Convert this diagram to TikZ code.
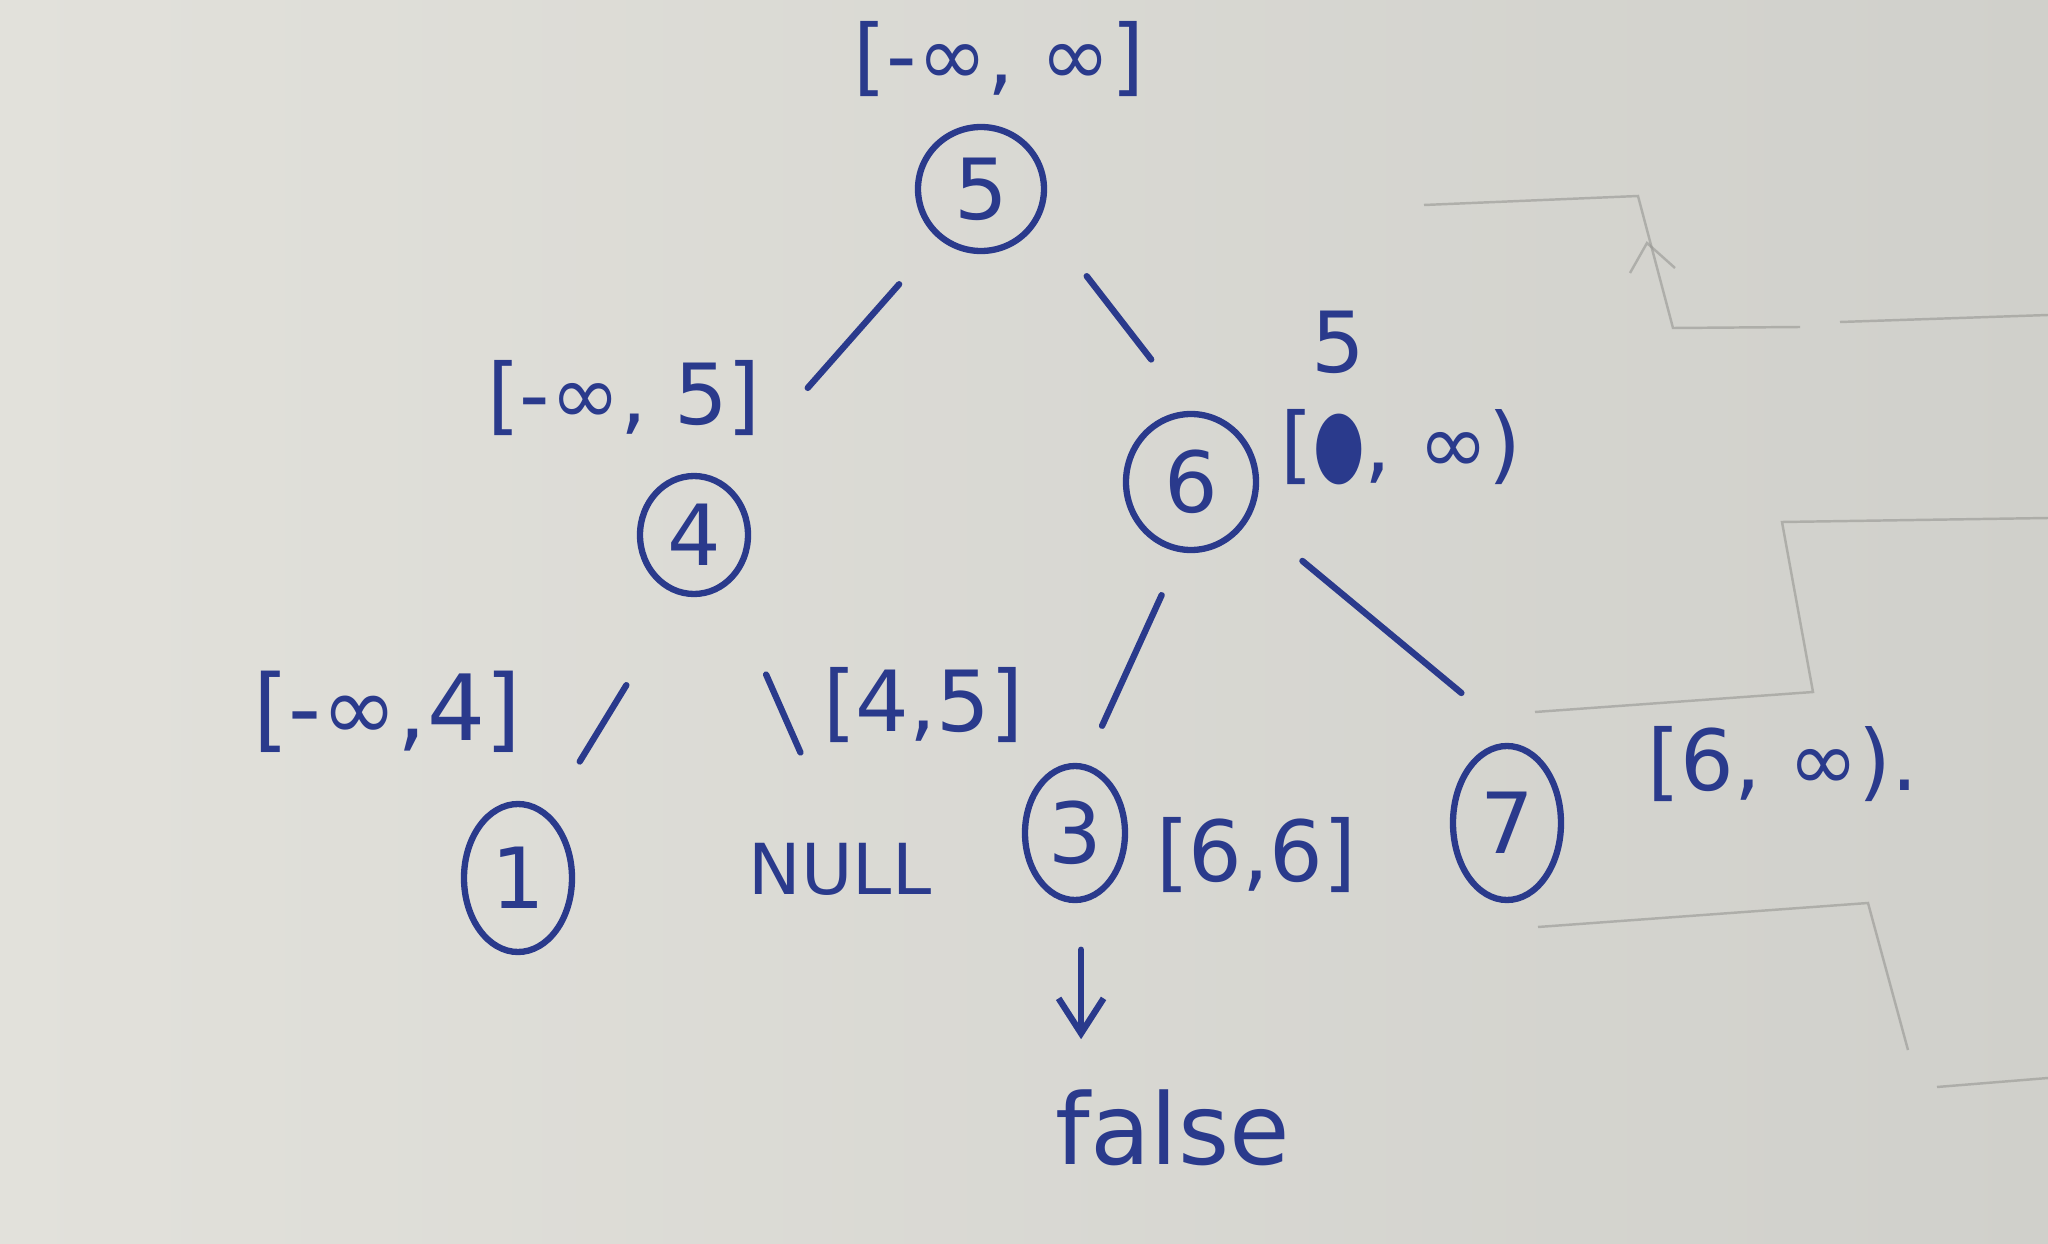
\documentclass[tikz,border=0pt]{standalone}
\usepackage{fontspec}
\setmainfont{DejaVu Sans}
\usepackage{graphicx}
\usepackage{tikz}
\usetikzlibrary{arrows.meta,positioning,shapes.geometric}
\definecolor{penink}{RGB}{42,58,140}
\definecolor{paperlight}{RGB}{226,225,219}
\definecolor{paperdark}{RGB}{208,208,203}
\definecolor{pencil}{RGB}{150,150,146}

\begin{document}
\begin{tikzpicture}[
    every node/.style={align=center},
    treenode/.style={ellipse, draw=penink, line width=1.8pt, text=penink, inner sep=0pt, font=\fontsize{24}{28}\selectfont},
    rangelbl/.style={text=penink, inner sep=0pt, font=\fontsize{24}{28}\selectfont},
    treeedge/.style={draw=penink, line width=1.8pt, line cap=round},
    arr/.style={-{Straight Barb[length=3.5mm, width=4.5mm]}, draw=penink, line width=1.8pt, line cap=round},
    pencilline/.style={draw=pencil, line width=0.7pt, opacity=0.6}
]

% Paper
\shade[left color=paperlight, right color=paperdark] (0,0) rectangle (20.48,-12.44);
\useasboundingbox (0,0) rectangle (20.48,-12.44);

% Pencil marks on the sheet
\draw[pencilline] (14.24,-2.05) -- (16.38,-1.96) -- (16.73,-3.28) -- (18.00,-3.27);
\draw[pencilline] (18.40,-3.22) -- (20.48,-3.15);
\draw[pencilline] (16.30,-2.73) -- (16.47,-2.43) -- (16.75,-2.68);
\draw[pencilline] (20.48,-5.18) -- (17.82,-5.22) -- (18.13,-6.92) -- (15.35,-7.12);
\draw[pencilline] (15.38,-9.27) -- (18.68,-9.03) -- (19.08,-10.50);
\draw[pencilline] (19.37,-10.87) -- (20.48,-10.78);

% Tree
\node[treenode, minimum width=1.26cm, minimum height=1.24cm] (n5) at (9.81,-1.89) {5};
\node[treenode, minimum width=1.08cm, minimum height=1.18cm] (n4) at (6.94,-5.35) {4};
\node[treenode, minimum width=1.30cm, minimum height=1.36cm] (n6) at (11.91,-4.82) {6};
\node[treenode, minimum width=1.08cm, minimum height=1.48cm] (n1) at (5.18,-8.78) {1};
\node[treenode, minimum width=1.00cm, minimum height=1.34cm] (n3) at (10.75,-8.33) {3};
\node[treenode, minimum width=1.08cm, minimum height=1.54cm] (n7) at (15.07,-8.23) {7};
\node[rangelbl, font=\fontsize{20}{24}\selectfont] (nullnode) at (8.40,-8.69) {NULL};

% Ranges
\node[rangelbl] (r5) at (9.99,-0.59) {[-∞, ∞]};
\node[rangelbl] (r4) at (6.24,-3.98) {[-∞, 5]};
\node[rangelbl] (r6) at (14.01,-4.47) {[\scalebox{0.7}[1.1]{●}, ∞)};
\node[rangelbl] (fix6) at (13.38,-3.42) {5};
\node[rangelbl, font=\fontsize{26}{30}\selectfont] (r1) at (3.87,-7.12) {[-∞,4]};
\node[rangelbl] (rnull) at (9.23,-7.05) {[4,5]};
\node[rangelbl] (r3) at (12.56,-8.55) {[6,6]};
\node[rangelbl] (r7) at (17.83,-7.64) {[6, ∞).};
\node[rangelbl, font=\fontsize{28}{32}\selectfont] (result) at (11.73,-11.28) {false};

% Connections
\draw[treeedge, shorten <=0.6cm, shorten >=1.26cm] (n5.230) -- (n4.60);
\draw[treeedge, shorten <=0.75cm, shorten >=0.65cm] (n5.-25) -- (n6.90);
\draw[treeedge, shorten <=1.05cm, shorten >=0.6cm] (n4.258) -- (n1.65);
\draw[treeedge, shorten <=0.97cm, shorten >=0.98cm] (n4.-57) -- (nullnode.north);
\draw[treeedge, shorten <=0.47cm, shorten >=0.42cm] (n6.262) -- (n3.82);
\draw[treeedge, shorten <=0.68cm, shorten >=1.06cm] (n6.-31) -- (n7.60);
\draw[arr, shorten <=0.47cm, shorten >=0.5cm] (n3.-85) -- (n3.-85 |- result.north);

\end{tikzpicture}
\end{document}
